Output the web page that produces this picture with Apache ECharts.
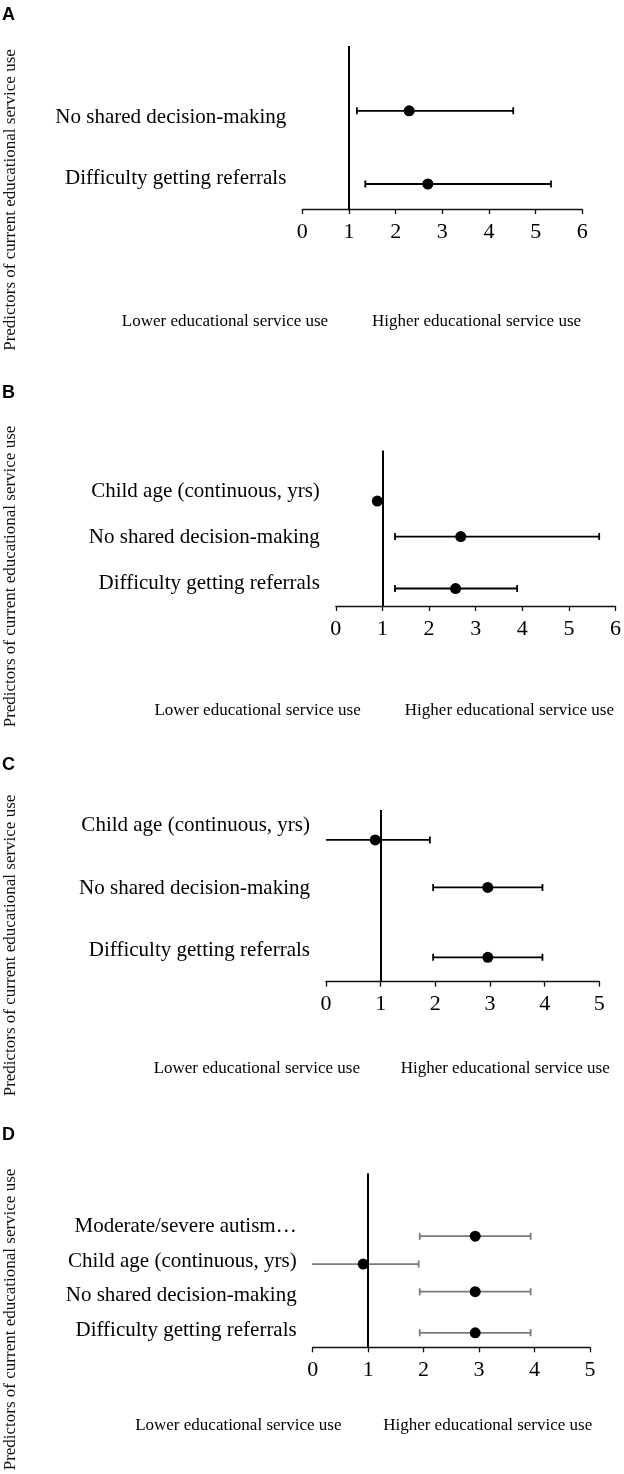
<!DOCTYPE html>
<html>
<head>
<meta charset="utf-8">
<script src="https://cdn.jsdelivr.net/npm/echarts@6/dist/echarts.min.js"></script>
<style>
html,body{margin:0;padding:0;background:#fff;}
#chart{width:624px;height:1474px;}
</style>
</head>
<body>
<div id="chart"></div>
<script>
// ---------- DATA (rows listed bottom-up) ----------
const labelsA = ['Difficulty getting referrals', 'No shared decision-making'];
const orA = [2.69, 2.29];
const loA = [1.35, 1.17];
const hiA = [5.33, 4.52];
const rowA = [0.41, 1.61];

const labelsB = ['Difficulty getting referrals', 'No shared decision-making', 'Child age (continuous, yrs)'];
const orB = [2.57, 2.68, 0.89];
const loB = [1.27, 1.27, null];
const hiB = [3.89, 5.65, null];
const rowB = [0.38, 1.51, 2.28];

const labelsC = ['Difficulty getting referrals', 'No shared decision-making', 'Child age (continuous, yrs)'];
const orC = [2.96, 2.96, 0.90];
const loC = [1.96, 1.96, -0.10];
const hiC = [3.96, 3.96, 1.90];
const rowC = [0.39, 1.51, 2.27];

const labelsD = ['Difficulty getting referrals', 'No shared decision-making', 'Child age (continuous, yrs)', 'Moderate/severe autism\u2026'];
const orD = [2.93, 2.93, 0.91, 2.93];
const loD = [1.93, 1.93, -0.09, 1.93];
const hiD = [3.93, 3.93, 1.91, 3.93];
const rowD = [0.42, 1.61, 2.41, 3.22];

const xMaxes = [6, 6, 5, 5];
const yMaxes = [2.672, 3.38, 2.75, 5.04];
const panelLetters = ['A', 'B', 'C', 'D'];
const yTitle = 'Predictors of current educational service use';
const lowerText = 'Lower educational service use';
const higherText = 'Higher educational service use';

// ---------- LAYOUT ----------
const SERIF = '"Liberation Serif", "Times New Roman", serif';
const grids = [
  {left: 302.3, top: 46, width: 280, height: 163},
  {left: 335.8, top: 450.5, width: 281, height: 155.5},
  {left: 326, top: 810, width: 273.3, height: 171.7},
  {left: 312.7, top: 1173.3, width: 277.3, height: 174}
];
const barColors = ['#000', '#000', '#000', '#7a7a7a'];
const letterY = [6, 384, 756, 1126];
const titleY = [200, 576.5, 945.5, 1319.5];
const bottomY = [322, 710.7, 1069, 1425.7];
const lowerX = [225, 257.6, 256.8, 238.3];
const higherX = [476.5, 509.4, 505.2, 487.7];

const panels = [
  {labels: labelsA, or: orA, lo: loA, hi: hiA, row: rowA},
  {labels: labelsB, or: orB, lo: loB, hi: hiB, row: rowB},
  {labels: labelsC, or: orC, lo: loC, hi: hiC, row: rowC},
  {labels: labelsD, or: orD, lo: loD, hi: hiD, row: rowD}
];

function makeRender(color) {
  return function (params, api) {
    const lo = api.value(0), hi = api.value(1), y = api.value(2);
    const p1 = api.coord([lo, y]);
    const p2 = api.coord([hi, y]);
    const h = 3.5;
    const style = {stroke: color, lineWidth: 1.8};
    return {
      type: 'group',
      children: [
        {type: 'line', shape: {x1: p1[0], y1: p1[1], x2: p2[0], y2: p2[1]}, style: style},
        {type: 'line', shape: {x1: p1[0], y1: p1[1] - h, x2: p1[0], y2: p1[1] + h}, style: style},
        {type: 'line', shape: {x1: p2[0], y1: p2[1] - h, x2: p2[0], y2: p2[1] + h}, style: style}
      ]
    };
  };
}

const option = {
  backgroundColor: '#fff',
  animation: false,
  grid: grids.map(g => Object.assign({containLabel: false}, g)),
  xAxis: [],
  yAxis: [],
  series: [],
  graphic: []
};

panels.forEach((p, i) => {
  option.xAxis.push({
    type: 'value', gridIndex: i, min: 0, max: xMaxes[i], interval: 1,
    axisLine: {show: true, lineStyle: {color: '#111', width: 1.3}},
    axisTick: {show: true, length: 5, inside: false, lineStyle: {color: '#111', width: 1.3}},
    axisLabel: {margin: 12, fontFamily: SERIF, fontSize: 22, color: '#000'},
    splitLine: {show: false}
  });
  option.yAxis.push({
    type: 'value', gridIndex: i, min: 0, max: yMaxes[i],
    axisLine: {show: false}, axisTick: {show: false}, splitLine: {show: false},
    axisLabel: {
      customValues: p.labels.map((_, k) => k + 0.5),
      formatter: function (v) { const k = Math.round(v - 0.5); return p.labels[k] || ''; },
      margin: 16, fontFamily: SERIF, fontSize: 21, color: '#000'
    }
  });
  const barData = [];
  p.lo.forEach((lo, k) => { if (lo !== null) barData.push([lo, p.hi[k], p.row[k]]); });
  option.series.push({
    type: 'custom', xAxisIndex: i, yAxisIndex: i, clip: true, z: 2,
    renderItem: makeRender(barColors[i]),
    encode: {x: [0, 1], y: 2},
    data: barData
  });
  option.series.push({
    type: 'scatter', xAxisIndex: i, yAxisIndex: i, z: 4,
    symbol: 'circle', symbolSize: 11,
    itemStyle: {color: '#000', opacity: 1},
    data: p.or.map((v, k) => [v, p.row[k]]),
    markLine: {
      silent: true, symbol: ['none', 'none'], label: {show: false},
      lineStyle: {color: '#000', width: 2, type: 'solid', opacity: 1},
      data: [{xAxis: 1}]
    }
  });
  option.graphic.push(
    {type: 'text', x: 2, y: letterY[i], style: {text: panelLetters[i], font: 'bold 18px "Liberation Sans", Arial, sans-serif', fill: '#000', align: 'left', verticalAlign: 'top'}},
    {type: 'text', x: 11, y: titleY[i], rotation: Math.PI / 2, style: {text: yTitle, font: '17px ' + SERIF, fill: '#111', align: 'center', verticalAlign: 'middle'}},
    {type: 'text', x: lowerX[i], y: bottomY[i], style: {text: lowerText, font: '17px ' + SERIF, fill: '#000', align: 'center', verticalAlign: 'middle'}},
    {type: 'text', x: higherX[i], y: bottomY[i], style: {text: higherText, font: '17px ' + SERIF, fill: '#000', align: 'center', verticalAlign: 'middle'}}
  );
});

const chart = echarts.init(document.getElementById('chart'), null, {renderer: 'canvas'});
chart.setOption(option);
</script>
</body>
</html>
